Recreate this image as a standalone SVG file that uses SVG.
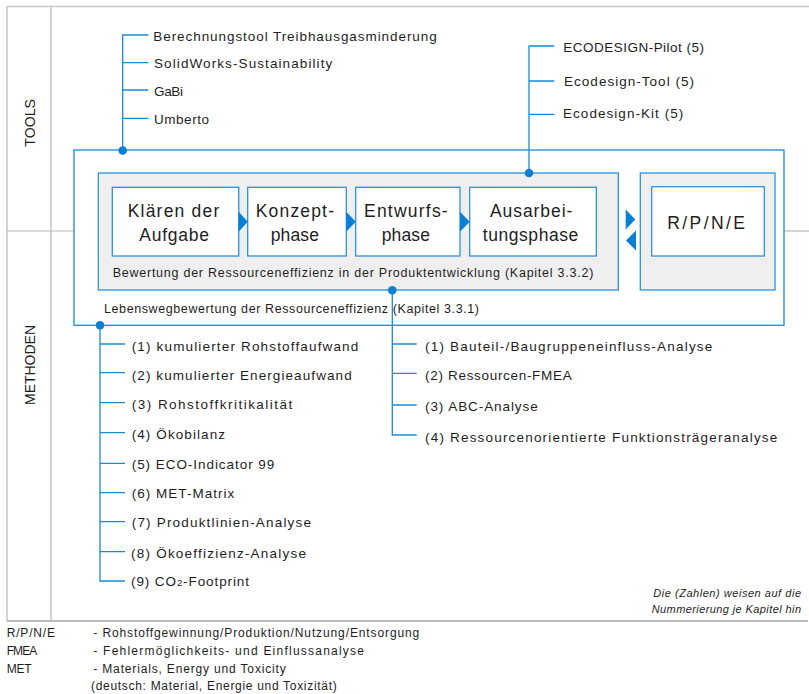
<svg xmlns="http://www.w3.org/2000/svg" width="809" height="694" viewBox="0 0 809 694">
<defs>
<style>
.fr{stroke:#c9c9c9;stroke-width:1.6;fill:none}
.bl{stroke:#1a8ad6;stroke-width:1.3;fill:none}
.dot{fill:#0a80d4}
.tri{fill:#0a80d4}
.wb{fill:#ffffff;stroke:#2a93dc;stroke-width:1.3}
.gb{fill:#efefef;stroke:#2a93dc;stroke-width:1.3}
text{font-family:"Liberation Sans",Arial,sans-serif;fill:#1e1e1e}
.lst{font-size:13.5px}
.box{font-size:17.5px}
.lab{font-size:12.5px}
.side{font-size:15px}
.leg{font-size:12px}
.note{font-size:11px;font-style:italic}
</style>
</defs>
<rect width="809" height="694" fill="#ffffff"/>
<!-- frame -->
<g id="frame">
<line class="fr" x1="7" y1="6.5" x2="809" y2="6.5"/>
<line class="fr" x1="7" y1="6" x2="7" y2="621"/>
<line class="fr" x1="51" y1="6" x2="51" y2="621"/>
<line x1="7" y1="621" x2="808" y2="621" stroke="#a8a8a8" stroke-width="1.3"/>
<line x1="7" y1="231" x2="74" y2="231" stroke="#b8b8b8" stroke-width="1.2"/>
<line x1="784" y1="231" x2="809" y2="231" stroke="#b8b8b8" stroke-width="1.2"/>
<text class="side" transform="translate(35,146.7) rotate(-90)" textLength="47.7" lengthAdjust="spacingAndGlyphs">TOOLS</text>
<text class="side" transform="translate(35,405) rotate(-90)" textLength="80" lengthAdjust="spacingAndGlyphs">METHODEN</text>
</g>
<!-- containers -->
<g id="lebensweg">
<rect class="bl" x="74" y="150" width="710" height="175.3"/>
<text class="lab" x="104" y="313.3" textLength="375">Lebenswegbewertung der Ressourceneffizienz (Kapitel 3.3.1)</text>
</g>
<g id="produktentwicklung">
<rect class="gb" x="98.3" y="173" width="520" height="117"/>
<text class="lab" x="112.7" y="277.3" textLength="480.6">Bewertung der Ressourceneffizienz in der Produktentwicklung (Kapitel 3.3.2)</text>
</g>
<g id="rpne-container">
<rect class="gb" x="640.3" y="173" width="134.7" height="117"/>
</g>
<g id="klaeren">
<rect class="wb" x="112.3" y="187.3" width="126.4" height="68.7"/>
<text class="box" x="127.7" y="216.7" textLength="91.6">Klären der</text>
<text class="box" x="139.3" y="241" textLength="69.7">Aufgabe</text>
</g>
<g id="konzept">
<rect class="wb" x="247.7" y="187.3" width="98.6" height="68.7"/>
<text class="box" x="255.7" y="216.7" textLength="78.3">Konzept-</text>
<text class="box" x="270.7" y="241" textLength="48.3">phase</text>
</g>
<g id="entwurf">
<rect class="wb" x="355.7" y="187.3" width="104.3" height="68.7"/>
<text class="box" x="364" y="216.7" textLength="83.7">Entwurfs-</text>
<text class="box" x="381.7" y="241" textLength="48.3">phase</text>
</g>
<g id="ausarbeitung">
<rect class="wb" x="469.7" y="187.3" width="126.6" height="68.7"/>
<text class="box" x="490" y="216.7" textLength="82.3">Ausarbei-</text>
<text class="box" x="482.7" y="241" textLength="95.6">tungsphase</text>
</g>
<g id="rpne">
<rect class="wb" x="651.7" y="186.7" width="112.6" height="69.3"/>
<text class="box" x="667.3" y="229.3" textLength="77.7">R/P/N/E</text>
</g>
<!-- tools -->
<g id="tools-left">
<text class="lst" x="153.3" y="40.7" textLength="283.4">Berechnungstool Treibhausgasminderung</text>
<text class="lst" x="154" y="67.7" textLength="178.3">SolidWorks-Sustainability</text>
<text class="lst" x="154" y="95.7" textLength="29">GaBi</text>
<text class="lst" x="154" y="124.3" textLength="55">Umberto</text>
</g>
<g id="tools-right">
<text class="lst" x="563.3" y="52.3" textLength="140.7">ECODESIGN-Pilot (5)</text>
<text class="lst" x="564" y="85.7" textLength="130">Ecodesign-Tool (5)</text>
<text class="lst" x="563" y="118.3" textLength="120.3">Ecodesign-Kit (5)</text>
</g>
<!-- methods -->
<g id="methoden-lebensweg">
<text class="lst" x="131.7" y="350.6" textLength="226.6">(1) kumulierter Rohstoffaufwand</text>
<text class="lst" x="131.7" y="380" textLength="220">(2) kumulierter Energieaufwand</text>
<text class="lst" x="131.7" y="409" textLength="160.6">(3) Rohstoffkritikalität</text>
<text class="lst" x="131.7" y="438.7" textLength="93.3">(4) Ökobilanz</text>
<text class="lst" x="131.7" y="469" textLength="142.6">(5) ECO-Indicator 99</text>
<text class="lst" x="131.7" y="498.3" textLength="102.6">(6) MET-Matrix</text>
<text class="lst" x="131.7" y="527.3" textLength="179.3">(7) Produktlinien-Analyse</text>
<text class="lst" x="131" y="557.5" textLength="175">(8) Ökoeffizienz-Analyse</text>
<text class="lst" x="131" y="585.7" textLength="118">(9) CO<tspan font-size="9.5px">2</tspan>-Footprint</text>
</g>
<g id="methoden-produkt">
<text class="lst" x="425" y="351" textLength="287.3">(1) Bauteil-/Baugruppeneinfluss-Analyse</text>
<text class="lst" x="425" y="380" textLength="146.7">(2) Ressourcen-FMEA</text>
<text class="lst" x="425" y="410.7" textLength="112.7">(3) ABC-Analyse</text>
<text class="lst" x="425" y="442.3" textLength="352.3">(4) Ressourcenorientierte Funktionsträgeranalyse</text>
</g>
<!-- connectors -->
<g id="connectors">
<path class="bl" d="M122.7 150.5 V35 H148.3 M122.7 62.7 H148.3 M122.7 90 H148.3 M122.7 118.3 H148.3"/>
<path class="bl" d="M529 173 V46 H554.3 M529 81 H554.3 M529 114.3 H554.3"/>
<path class="bl" d="M100 325.3 V581 H125 M100 344 H125 M100 372.7 H125 M100 402.7 H125 M100 432.7 H125 M100 463.3 H125 M100 492.7 H125 M100 521.7 H125 M100 551.7 H125"/>
<path class="bl" d="M392.3 290 V435 H416.7 M392.3 344 H416.7 M392.3 373.3 H416.7 M392.3 405 H416.7"/>
<circle class="dot" cx="122.7" cy="150.5" r="4.3"/>
<circle class="dot" cx="529" cy="173" r="4.3"/>
<circle class="dot" cx="100" cy="325.3" r="4.3"/>
<circle class="dot" cx="392.3" cy="290.3" r="4.3"/>
<polygon class="tri" points="238.7,211.7 247.7,221.7 238.7,231.7"/>
<polygon class="tri" points="346.3,211.7 355.7,221.7 346.3,231.7"/>
<polygon class="tri" points="460,211.7 469.7,221.7 460,231.7"/>
<polygon class="tri" points="625.7,209.5 635.3,219.5 625.7,229.5"/>
<polygon class="tri" points="636,230.5 626,240.5 636,250.5"/>
</g>
<!-- note -->
<g id="note">
<text class="note" x="653.3" y="597" textLength="147.7">Die (Zahlen) weisen auf die</text>
<text class="note" x="651.7" y="612.7" textLength="149.3">Nummerierung je Kapitel hin</text>
</g>
<!-- legend -->
<g id="legend">
<text class="leg" x="6.7" y="637.3" textLength="48.3">R/P/N/E</text>
<text class="leg" x="93.3" y="637.3" textLength="326">- Rohstoffgewinnung/Produktion/Nutzung/Entsorgung</text>
<text class="leg" x="6.7" y="655" textLength="30.6">FMEA</text>
<text class="leg" x="93.3" y="655" textLength="270.7">- Fehlermöglichkeits- und Einflussanalyse</text>
<text class="leg" x="6.7" y="672.7" textLength="25">MET</text>
<text class="leg" x="93.3" y="672.7" textLength="192.4">- Materials, Energy und Toxicity</text>
<text class="leg" x="91" y="690" textLength="245.7">(deutsch: Material, Energie und Toxizität)</text>
</g>
</svg>
